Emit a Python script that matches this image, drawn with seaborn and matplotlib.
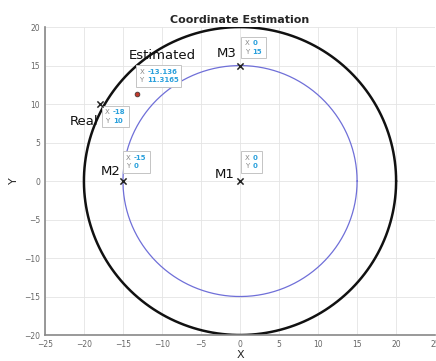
import numpy as np
import pandas as pd
import seaborn as sns
import matplotlib.pyplot as plt

# anchor / point data
point_names = ['M1', 'M2', 'M3', 'Real']
point_x = [0, -15, 0, -18]
point_y = [0, 0, 15, 10]
est_x = [-13.136]
est_y = [11.3165]
circle_radius = [20, 15]          # outer (black), inner (blue)
circle_colors = ['#111111', '#6f6fd8']
circle_widths = [1.8, 0.9]

# label / datatip placement
label_pos = {'M1': (-3.3, 0.9), 'M2': (-17.8, 1.3), 'M3': (-3.0, 16.6),
             'Real': (-21.8, 7.7), 'Estimated': (-14.2, 16.3)}
tip_pos = {'M1': (0.6, 3.4), 'M2': (-14.6, 3.4), 'M3': (0.6, 18.3),
           'Real': (-17.3, 9.3), 'Estimated': (-12.9, 14.6)}
tip_text = {'M1': ('0', '0'), 'M2': ('-15', '0'), 'M3': ('0', '15'),
            'Real': ('-18', '10'), 'Estimated': ('-13.136', '11.3165')}

sns.set_style('whitegrid')
fig = plt.figure(figsize=(4.36, 3.61), dpi=100)
ax = fig.add_axes([0.103, 0.072, 0.895, 0.853])

theta = np.linspace(0, 2 * np.pi, 400)
for r, c, lw in zip(circle_radius, circle_colors, circle_widths):
    circ = pd.DataFrame({'x': r * np.cos(theta), 'y': r * np.sin(theta)})
    sns.lineplot(data=circ, x='x', y='y', sort=False, estimator=None,
                 color=c, lw=lw, ax=ax)

pts = pd.DataFrame({'x': point_x, 'y': point_y, 'name': point_names})
sns.scatterplot(data=pts, x='x', y='y', marker='x', color='#222222', s=20,
                linewidth=1.1, ax=ax, zorder=5)
sns.scatterplot(x=est_x, y=est_y, color='#c0392b', s=12, edgecolor='#333333',
                linewidth=0.5, ax=ax, zorder=5)

for k, (lx, ly) in label_pos.items():
    ax.text(lx, ly, k, fontsize=9.5, color='#111111', ha='left', va='center')

for k, (tx, ty) in tip_pos.items():
    xv, yv = tip_text[k]
    # box sized by an invisible copy of the text
    ax.text(tx, ty, 'X  ' + xv + '\nY  ' + yv, fontsize=5, color='white',
            va='top', linespacing=1.5,
            bbox=dict(boxstyle='square,pad=0.5', fc='white', ec='#c4c4c4', lw=0.7))
    ax.text(tx, ty, 'X\nY', fontsize=5, color='#888888', va='top',
            linespacing=1.5, zorder=6)
    ax.text(tx + 1.0, ty, xv + '\n' + yv, fontsize=5, color='#2aa0dc',
            fontweight='bold', va='top', linespacing=1.5, zorder=6)

ax.set_xlim(-25, 25)
ax.set_ylim(-20, 20)
ax.set_xticks(range(-25, 26, 5))
ax.set_yticks(range(-20, 21, 5))
ax.tick_params(labelsize=5.5, colors='#666666', length=2, direction='in')
ax.grid(color='#e4e4e4', lw=0.6)
for s in ['top', 'right']:
    ax.spines[s].set_visible(False)
for s in ['left', 'bottom']:
    ax.spines[s].set_color('#888888')
    ax.spines[s].set_linewidth(1.2)
ax.set_xlabel('X', fontsize=8, labelpad=1)
ax.set_ylabel('Y', fontsize=8, labelpad=4)
ax.set_title('Coordinate Estimation', fontsize=8, fontweight='bold', pad=3)

fig.savefig('out.png', dpi=100)
